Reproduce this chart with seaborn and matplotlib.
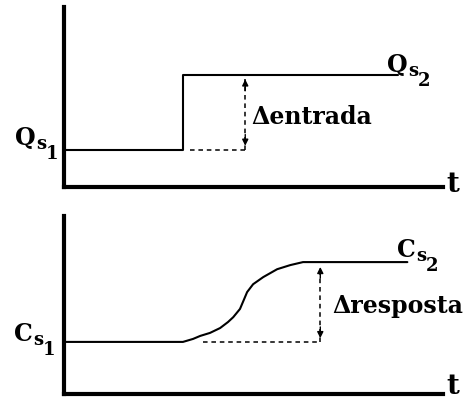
import matplotlib
matplotlib.use("Agg")
import matplotlib.pyplot as plt
import seaborn as sns

# Step input (top) and S-shaped response (bottom)
t_input = [0.0, 3.17, 3.17, 8.91]
q_input = [1.0, 1.0, 3.0, 3.0]

t_resp = [0.0, 3.17, 3.44, 3.63, 3.89, 4.16, 4.37, 4.51, 4.69, 4.80, 4.88,
          5.04, 5.31, 5.68, 6.03, 6.37, 9.15]
c_resp = [1.39, 1.39, 1.47, 1.55, 1.63, 1.76, 1.92, 2.05, 2.27, 2.53, 2.72,
          2.93, 3.12, 3.33, 3.44, 3.52, 3.52]

t_delta_in = 4.83
t_delta_out = 6.83

sns.set_theme(style="white")
plt.rcParams["font.family"] = ["DejaVu Serif"]
plt.rcParams["text.color"] = "black"

fig = plt.figure(figsize=(4.67, 4.02), dpi=100)
ax1 = fig.add_axes([64 / 467, 1 - 188 / 402, 379 / 467, 180 / 402])
ax2 = fig.add_axes([64 / 467, 1 - 395 / 402, 379 / 467, 178 / 402])


def style_axes(ax, ytop):
    ax.set_xlim(0, 10.1)
    ax.set_ylim(0, ytop)
    ax.set_xticks([])
    ax.set_yticks([])
    ax.set_facecolor("none")
    for side in ["top", "right"]:
        ax.spines[side].set_visible(False)
    for side in ["left", "bottom"]:
        ax.spines[side].set_color("black")
        ax.spines[side].set_linewidth(3)
        ax.spines[side].set_capstyle("projecting")


def sub_label(ax, x, y, main, sub, idx, dx=15.5):
    kw = dict(xycoords="data", textcoords="offset points", fontweight="bold",
              color="black", ha="left", va="baseline", annotation_clip=False)
    ax.annotate(main, (x, y), xytext=(0, 0), fontsize=17, **kw)
    ax.annotate(sub, (x, y), xytext=(dx, -3), fontsize=13, **kw)
    ax.annotate(idx, (x, y), xytext=(dx + 6.5, -10), fontsize=13, **kw)


def delta_arrow(ax, x, y0, y1):
    ax.plot([x, x], [y0, y1], color="black", lw=1.1, ls=(0, (3, 2.5)))
    for tip, tail in [(y1, y1 - 0.3), (y0 + 0.1, y0 + 0.4)]:
        ax.annotate("", xy=(x, tip), xytext=(x, tail),
                    arrowprops=dict(arrowstyle="-|>", color="black", lw=1,
                                    mutation_scale=9, shrinkA=0, shrinkB=0))


# top panel: input step
style_axes(ax1, 4.8)
sns.lineplot(x=t_input, y=q_input, sort=False, estimator=None,
             color="black", lw=1.5, ax=ax1)
ax1.plot([3.36, t_delta_in], [q_input[0], q_input[0]], color="black", lw=1.1,
         ls=(0, (3, 2.5)))
delta_arrow(ax1, t_delta_in, q_input[0], 2.87)
sub_label(ax1, -1.31, 1.15, "Q", "s", "1")
sub_label(ax1, 8.61, 3.1, "Q", "s", "2")
ax1.text(5.0, 1.89, "Δentrada", fontsize=17, fontweight="bold", va="center",
         color="black")
ax1.text(10.2, -0.1, "t", fontsize=20, fontweight="bold", va="baseline",
         color="black")

# bottom panel: response
style_axes(ax2, 4.75)
sns.lineplot(x=t_resp, y=c_resp, sort=False, estimator=None,
             color="black", lw=1.5, ax=ax2)
ax2.plot([3.71, t_delta_out], [c_resp[0], c_resp[0]], color="black", lw=1.1,
         ls=(0, (3, 2.5)))
delta_arrow(ax2, t_delta_out, c_resp[0], 3.39)
sub_label(ax2, -1.33, 1.45, "C", "s", "1", dx=14)
sub_label(ax2, 8.88, 3.68, "C", "s", "2", dx=14)
ax2.text(7.15, 2.37, "Δresposta", fontsize=17, fontweight="bold", va="center",
         color="black")
ax2.text(10.2, 0.02, "t", fontsize=20, fontweight="bold", va="baseline",
         color="black")

fig.savefig("out.png", dpi=100)
plt.close(fig)
